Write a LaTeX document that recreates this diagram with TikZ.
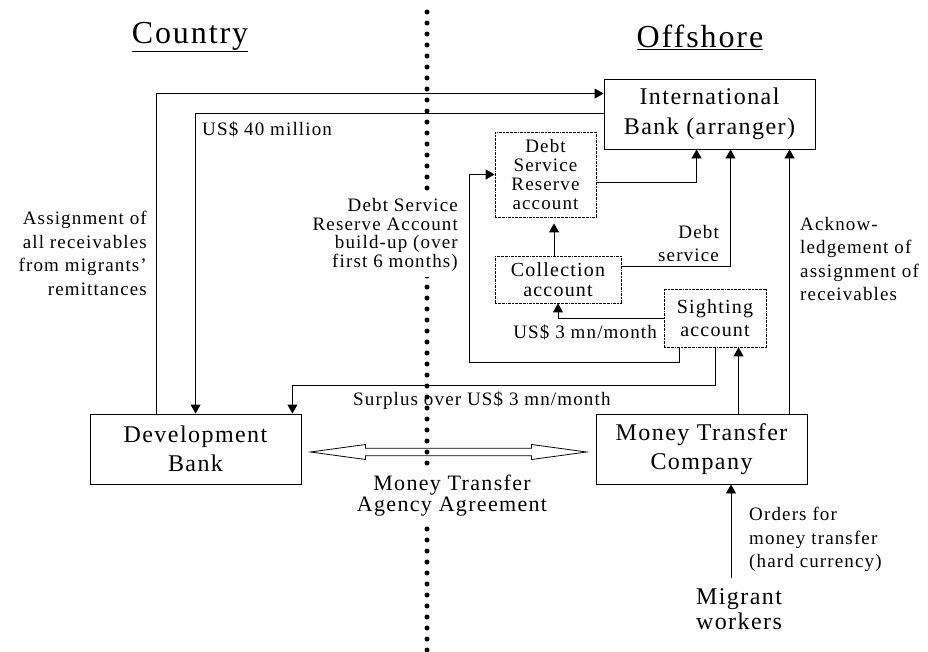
\documentclass[tikz,border=0pt]{standalone}
\usepackage{fontspec}
\setmainfont{Liberation Serif}[LetterSpace=6]
\usetikzlibrary{arrows.meta,calc}
\begin{document}
\begin{tikzpicture}[x=1pt,y=-1pt]
\tikzset{
 box/.style={draw, line width=0.9pt, inner sep=0pt, align=center, font=\fontsize{24}{29.5}\selectfont},
 acct/.style={draw, line width=0.8pt, dash pattern=on 2pt off 0.8pt on 0.6pt off 0.8pt, inner sep=0pt, align=center},
 arr/.style={line width=0.9pt, -{Triangle[length=9pt,width=10pt]}},
 ln/.style={line width=0.9pt},
 lbl/.style={inner sep=0pt, font=\fontsize{19}{23.5}\selectfont},
 ttl/.style={inner sep=0pt, font=\fontsize{32}{36}\selectfont},
}
\useasboundingbox (0,0) rectangle (928,651);

% titles
\node[ttl] (tcountry) at (190,37) {\underline{Country}};
\node[ttl] (toffshore) at (700,37) {\underline{Offshore}};

% boxes
\node[box, minimum width=211pt, minimum height=70pt] (ib) at (709.5,114) {International\\Bank (arranger)};
\node[box, minimum width=211pt, minimum height=70pt] (db) at (195.5,449) {Development\\Bank};
\node[box, minimum width=211pt, minimum height=70pt] (mtc) at (701.5,449) {Money Transfer\\Company};
\node[acct, minimum width=101pt, minimum height=85pt, font=\fontsize{19}{19}\selectfont] (dsr) at (545.5,174.5) {Debt\\Service\\Reserve\\account};
\node[acct, minimum width=126pt, minimum height=47pt, font=\fontsize{20}{19.5}\selectfont] (coll) at (558,279.5) {Collection\\account};
\node[acct, minimum width=102pt, minimum height=58pt, font=\fontsize{20}{23}\selectfont] (sight) at (715,318) {Sighting\\account};
\node[inner sep=0pt, anchor=north, align=center, font=\fontsize{24}{25}\selectfont] (mig) at (739,588) {Migrant\\workers};

% connectors
\draw[arr] ($(db.north west)+(67,0)$) |- ($(ib.north west)+(0,15)$);
\draw[arr] ($(ib.north west)+(0,35)$) -| ($(db.north west)+(106,0)$);
\draw[arr] (sight.south) -- ++(0,38) -| ($(db.north east)+(-9,0)$);
\draw[arr] ($(sight.south west)+(16,0)$) -- ++(0,15) -| ($(dsr.west)+(-25,0)$) -- (dsr.west);
\draw[arr] (sight.west) -| (coll.south);
\coordinate (c1) at ($(coll.north)+(-4,0)$);
\draw[arr, shorten >=6pt] (c1) -- (c1 |- dsr.south);
\draw[arr] ($(coll.north east)+(0,11)$) -| ($(ib.south west)+(127,0)$);
\draw[arr] ($(dsr.north east)+(0,51)$) -| ($(ib.south west)+(93,0)$);
\coordinate (m1) at ($(mtc.north west)+(143,0)$);
\draw[arr] (m1) -- (m1 |- sight.south);
\coordinate (m2) at ($(mtc.north west)+(194,0)$);
\draw[arr] (m2) -- (m2 |- ib.south);
\coordinate (w1) at ($(mig.north)+(-8,-10)$);
\draw[arr] (w1) -- (w1 |- mtc.south);

% hollow double arrow
\coordinate (dl) at ($(db.east)+(9,3)$);
\coordinate (dr) at ($(mtc.west)+(-9,3)$);
\draw[line width=0.8pt] (dl) -- ++(55,-7.5) -- ++(0,3.8) -- ($(dr)+(-55,-3.7)$) -- ++(0,-3.8) -- (dr)
  -- ++(-55,7.5) -- ++(0,-3.8) -- ($(dl)+(55,3.7)$) -- ++(0,3.8) -- cycle;

% dotted border line
\draw[line width=5pt, line cap=round, dash pattern=on 0pt off 11pt] (427,12) -- (427,651);

% labels
\node[lbl, anchor=base west] (l40) at (202,135) {US\$ 40 million};
\node[lbl, anchor=north east, align=right] (lassign) at (147,211) {Assignment of\\all receivables\\from migrants'\\remittances};
\node[lbl, anchor=north west, align=left] (lack) at (800,217) {Acknow-\\ledgement of\\assignment of\\receivables};
\node[lbl, anchor=north west, align=left] (lorders) at (749,507) {Orders for\\money transfer\\(hard currency)};
\node[lbl, anchor=north east, align=right, fill=white, inner ysep=5pt, inner xsep=2pt, font=\fontsize{19}{18.7}\selectfont] (ldsr) at (460,193) {Debt Service\\Reserve Account\\build-up (over\\first 6 months)};
\node[lbl, anchor=north east, align=right] (lds) at (719,225) {Debt\\service};
\node[lbl, anchor=base east] (l3) at (657,338) {US\$ 3 mn/month};
\node[lbl, anchor=base west] (lsur) at (353,405) {Surplus over US\$ 3 mn/month};
\node[inner ysep=8pt, inner xsep=2pt, anchor=north, align=center, fill=white, font=\fontsize{22}{20.5}\selectfont] (lagr) at (452,467) {Money Transfer\\Agency Agreement};
\end{tikzpicture}
\end{document}
